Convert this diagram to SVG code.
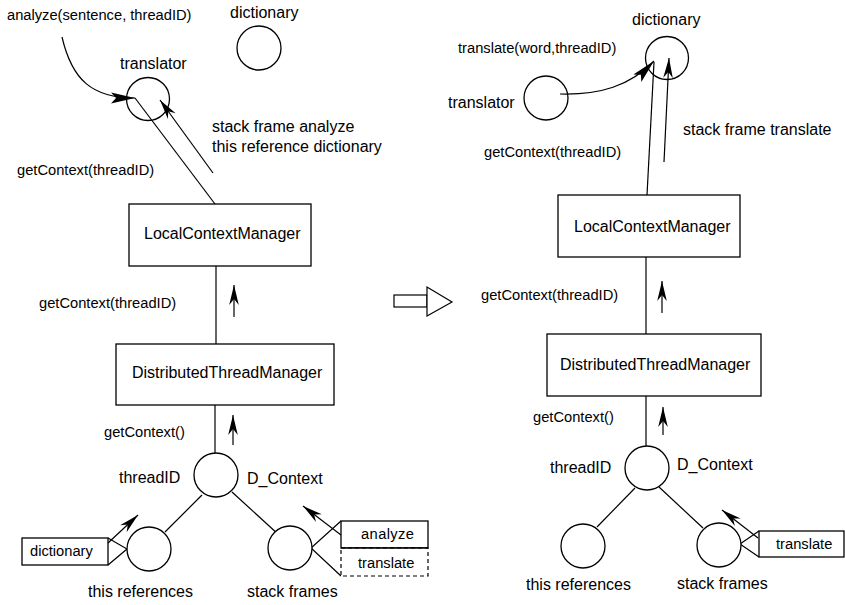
<svg xmlns="http://www.w3.org/2000/svg" width="845" height="605" viewBox="0 0 845 605">
<style>
text{font-family:"Liberation Sans",Arial,sans-serif;fill:#000}
.l{font-size:16px}
.s{font-size:14.7px}
.n{fill:#fff;stroke:#000;stroke-width:1.3}
.c{fill:none;stroke:#000;stroke-width:1.2}
.ar{fill:none;stroke:#000;stroke-width:1.2;marker-end:url(#ah)}
.cv{fill:none;stroke:#000;stroke-width:1.2;marker-end:url(#ch)}
</style>
<defs>
<marker id="ah" viewBox="-22 -6 23 12" markerWidth="23" markerHeight="12" refX="0" refY="0" orient="auto" markerUnits="userSpaceOnUse">
<path d="M0,0 L-20,-4.8 L-14,0 L-20,4.8 Z" fill="#000"/>
</marker>
<marker id="ch" viewBox="-25 -7 26 14" markerWidth="26" markerHeight="14" refX="0" refY="0" orient="auto" markerUnits="userSpaceOnUse">
<path d="M0,0 L-24,-5.5 L-19,0 L-24,5.5 Z" fill="#000"/>
</marker>
</defs>

<g id="connectors">
<!-- left -->
<path class="cv" d="M62,37 C72,80 92,98 135,98"/>
<line class="c" x1="215" y1="204" x2="135" y2="98"/>
<line class="ar" x1="213" y1="173" x2="160" y2="100"/>
<line class="c" x1="216" y1="266" x2="216" y2="344"/>
<line class="ar" x1="234" y1="317" x2="234" y2="285"/>
<line class="c" x1="215" y1="405" x2="215" y2="453"/>
<line class="ar" x1="233" y1="445" x2="233" y2="415"/>
<line class="c" x1="202" y1="495" x2="165" y2="532"/>
<line class="c" x1="232" y1="492" x2="279" y2="535"/>
<polyline class="c" points="108,538 127,549 108,565"/>
<line class="ar" x1="108" y1="543" x2="138" y2="515"/>
<polyline class="c" points="341,521 311,548 341,576"/>
<line class="ar" x1="341" y1="535" x2="303" y2="506"/>
<!-- right -->
<path class="cv" d="M560,94 C600,95 630,86 654,61"/>
<line class="c" x1="647" y1="195" x2="654" y2="62"/>
<line class="ar" x1="664" y1="162" x2="669" y2="58"/>
<line class="c" x1="646" y1="257" x2="646" y2="334"/>
<line class="ar" x1="662" y1="313" x2="662" y2="281"/>
<line class="c" x1="646" y1="396" x2="646" y2="446"/>
<line class="ar" x1="663" y1="435" x2="663" y2="407"/>
<line class="c" x1="635" y1="488" x2="597" y2="527"/>
<line class="c" x1="659" y1="487" x2="703" y2="528"/>
<polyline class="c" points="759,531 740,544 759,557"/>
<line class="ar" x1="758" y1="538" x2="722" y2="510"/>
</g>

<g id="transform-arrow">
<rect x="394" y="295" width="33" height="12" fill="#fff" stroke="#000" stroke-width="1.2"/>
<polygon points="427,287 427,316 452,302" fill="#fff" stroke="#000" stroke-width="1.2"/>
</g>

<g id="labels">
<text class="s" x="7" y="20">analyze(sentence, threadID)</text>
<text class="l" x="212" y="132">stack frame analyze</text>
<text class="l" x="212" y="152">this reference dictionary</text>
<text class="s" x="17" y="175">getContext(threadID)</text>
<text class="s" x="39" y="308">getContext(threadID)</text>
<text class="s" x="104" y="437">getContext()</text>
<text class="s" x="458" y="53">translate(word,threadID)</text>
<text class="l" x="683" y="135">stack frame translate</text>
<text class="s" x="484" y="157">getContext(threadID)</text>
<text class="s" x="481" y="300">getContext(threadID)</text>
<text class="s" x="533" y="422">getContext()</text>
</g>

<g id="L-dictionary">
<circle class="n" cx="259" cy="48" r="22"/>
<text class="l" x="230" y="18">dictionary</text>
</g>
<g id="L-translator">
<circle class="n" cx="148" cy="99" r="21.5" style="fill:none"/>
<text class="l" x="120" y="69">translator</text>
</g>
<g id="L-LocalContextManager">
<rect class="n" x="129" y="204" width="182" height="62"/>
<text class="l" x="144" y="239">LocalContextManager</text>
</g>
<g id="L-DistributedThreadManager">
<rect class="n" x="116" y="344" width="218" height="61"/>
<text class="l" x="132" y="378">DistributedThreadManager</text>
</g>
<g id="L-D_Context">
<circle class="n" cx="216" cy="475" r="22"/>
<text class="l" x="119" y="483">threadID</text>
<text class="l" x="247" y="484">D_Context</text>
</g>
<g id="L-this-references">
<circle class="n" cx="149" cy="549" r="22"/>
<text class="l" x="88" y="597">this references</text>
</g>
<g id="L-stack-frames">
<circle class="n" cx="290" cy="548" r="22"/>
<text class="l" x="247" y="597">stack frames</text>
</g>
<g id="L-dictionary-ref">
<rect class="n" x="22" y="538" width="86" height="27"/>
<text class="s" x="30" y="556">dictionary</text>
</g>
<g id="L-analyze-frame">
<rect class="n" x="341" y="521" width="87" height="27"/>
<text class="s" x="361" y="539" letter-spacing="0.4">analyze</text>
</g>
<g id="L-translate-frame">
<rect x="341" y="548" width="87" height="28" fill="#fff" stroke="#000" stroke-width="1.2" stroke-dasharray="4,3"/>
<line x1="341" y1="548" x2="428" y2="548" stroke="#000" stroke-width="1.3"/>
<text class="s" x="358" y="568">translate</text>
</g>

<g id="R-dictionary">
<circle class="n" cx="667" cy="58" r="21.5" style="fill:none"/>
<text class="l" x="632" y="25">dictionary</text>
</g>
<g id="R-translator">
<circle class="n" cx="546" cy="98" r="22" style="fill:none"/>
<text class="l" x="448" y="108">translator</text>
</g>
<g id="R-LocalContextManager">
<rect class="n" x="558" y="195" width="182" height="62"/>
<text class="l" x="574" y="232">LocalContextManager</text>
</g>
<g id="R-DistributedThreadManager">
<rect class="n" x="547" y="334" width="214" height="62"/>
<text class="l" x="560" y="370">DistributedThreadManager</text>
</g>
<g id="R-D_Context">
<circle class="n" cx="647" cy="468" r="22"/>
<text class="l" x="550" y="473">threadID</text>
<text class="l" x="677" y="470">D_Context</text>
</g>
<g id="R-this-references">
<circle class="n" cx="583" cy="546" r="22"/>
<text class="l" x="526" y="590">this references</text>
</g>
<g id="R-stack-frames">
<circle class="n" cx="719" cy="545" r="22"/>
<text class="l" x="677" y="589">stack frames</text>
</g>
<g id="R-translate-frame">
<rect class="n" x="759" y="531" width="85" height="26"/>
<text class="s" x="776" y="549">translate</text>
</g>
</svg>
